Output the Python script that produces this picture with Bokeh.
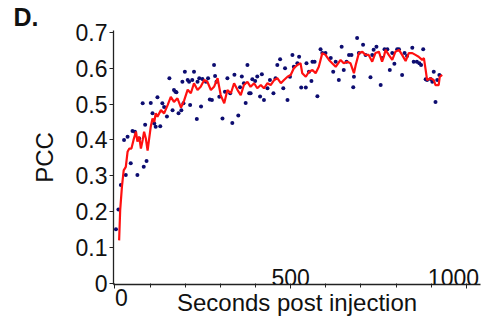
from bokeh.plotting import figure
from bokeh.models import Range1d, FixedTicker, Label
from bokeh.embed import file_html
from bokeh.resources import INLINE

# ---- data ----
dot_t = [3, 10, 17, 26, 31, 36, 45, 50, 57, 64, 69, 79, 82, 86, 90, 102, 107, 112, 116, 121,
         129, 135, 140, 148, 155, 164, 168, 172, 175, 181, 189, 192, 195, 199, 207, 211, 214,
         220, 225, 233, 235, 240, 245, 249, 259, 265, 270, 276, 282, 285, 289, 297, 306, 313,
         320, 328, 334, 340, 351, 356, 361, 367, 372, 377, 382, 386, 391, 399, 405, 413, 418,
         424, 434, 441, 451, 457, 462, 470, 479, 484, 491, 498, 505, 509, 519, 524, 530, 543,
         545, 552, 559, 562, 568, 576, 585, 590, 599, 614, 621, 628, 637, 645, 651, 659, 666,
         673, 678, 680, 689, 694, 706, 713, 727, 732, 736, 744, 756, 760, 767, 775, 782, 789,
         795, 803, 808, 817, 824, 831, 846, 850, 859, 866, 871, 877, 884, 888, 898, 903, 907,
         912, 917, 923]
dot_pcc = [0.151, 0.206, 0.274, 0.400, 0.302, 0.409, 0.335, 0.425, 0.423, 0.302, 0.404, 0.502,
           0.325, 0.442, 0.341, 0.503, 0.474, 0.446, 0.437, 0.519, 0.438, 0.502, 0.492, 0.465,
           0.572, 0.483, 0.539, 0.534, 0.533, 0.474, 0.483, 0.562, 0.502, 0.590, 0.567, 0.562,
           0.497, 0.567, 0.590, 0.458, 0.562, 0.572, 0.493, 0.570, 0.562, 0.572, 0.513, 0.511,
           0.609, 0.578, 0.562, 0.520, 0.460, 0.534, 0.572, 0.530, 0.447, 0.582, 0.468, 0.547,
           0.577, 0.558, 0.503, 0.609, 0.530, 0.530, 0.569, 0.564, 0.577, 0.521, 0.583, 0.511,
           0.544, 0.567, 0.530, 0.572, 0.609, 0.625, 0.544, 0.600, 0.511, 0.576, 0.637, 0.604,
           0.614, 0.632, 0.546, 0.546, 0.614, 0.590, 0.564, 0.618, 0.618, 0.522, 0.653, 0.642,
           0.642, 0.628, 0.590, 0.618, 0.567, 0.660, 0.595, 0.618, 0.637, 0.637, 0.547, 0.576,
           0.684, 0.642, 0.665, 0.637, 0.575, 0.637, 0.651, 0.660, 0.553, 0.628, 0.653, 0.653,
           0.595, 0.642, 0.612, 0.653, 0.653, 0.581, 0.642, 0.634, 0.657, 0.618, 0.618, 0.614,
           0.609, 0.653, 0.569, 0.567, 0.570, 0.562, 0.590, 0.506, 0.567, 0.581]

avg_t = [12, 15, 20, 25, 31, 36, 41, 47, 53, 60, 64, 69, 74, 79, 83, 88, 93, 97, 102, 107,
         112, 116, 121, 131, 140, 150, 159, 168, 178, 188, 197, 207, 216, 225, 235, 244, 254,
         263, 273, 282, 292, 301, 311, 320, 330, 339, 349, 358, 367, 377, 386, 396, 405, 415,
         424, 434, 443, 453, 462, 472, 481, 491, 500, 509, 519, 528, 533, 543, 552, 562, 571,
         580, 590, 599, 609, 618, 628, 642, 651, 661, 670, 680, 685, 694, 704, 713, 722, 732,
         741, 751, 760, 765, 770, 779, 789, 798, 808, 817, 827, 836, 846, 855, 864, 874, 879,
         884, 888, 898, 907, 912, 921, 924, 931]
avg_pcc = [0.120, 0.204, 0.270, 0.315, 0.325, 0.367, 0.376, 0.376, 0.400, 0.423, 0.395, 0.409,
           0.376, 0.400, 0.423, 0.404, 0.370, 0.400, 0.437, 0.460, 0.450, 0.474, 0.465, 0.483,
           0.474, 0.497, 0.520, 0.506, 0.516, 0.490, 0.510, 0.540, 0.530, 0.558, 0.539, 0.548,
           0.567, 0.562, 0.539, 0.548, 0.572, 0.525, 0.502, 0.539, 0.530, 0.558, 0.539, 0.525,
           0.553, 0.562, 0.548, 0.558, 0.544, 0.553, 0.544, 0.558, 0.553, 0.567, 0.572, 0.558,
           0.567, 0.576, 0.581, 0.600, 0.609, 0.614, 0.586, 0.576, 0.590, 0.595, 0.586, 0.604,
           0.642, 0.637, 0.623, 0.614, 0.604, 0.623, 0.614, 0.618, 0.614, 0.586, 0.609, 0.642,
           0.646, 0.637, 0.637, 0.618, 0.642, 0.646, 0.618, 0.632, 0.651, 0.637, 0.623, 0.646,
           0.651, 0.637, 0.620, 0.642, 0.642, 0.637, 0.632, 0.623, 0.628, 0.595, 0.567, 0.572,
           0.567, 0.553, 0.553, 0.576, 0.581]

y_ticks = [0, 0.1, 0.2, 0.3, 0.4, 0.5, 0.6, 0.7]
y_tick_labels = ["0", "0.1", "0.2", "0.3", "0.4", "0.5", "0.6", "0.7"]
x_major = [0, 500, 1000]
x_minor = [100, 200, 300, 400, 600, 700, 800, 900]
x_tick_labels = ["0", "500", "1000"]

FONT = "Liberation Sans"

p = figure(width=499, height=326, output_backend="svg", toolbar_location=None,
           x_range=Range1d(-4, 1040), y_range=Range1d(-0.003, 0.705),
           min_border_left=113, min_border_right=19, min_border_top=30, min_border_bottom=42)
p.outline_line_color = None
p.grid.visible = False
p.background_fill_color = "white"
p.border_fill_color = "white"

# panel letter
p.title.text = "D."
p.title.align = "left"
p.title.offset = -100
p.title.standoff = 0
p.title.text_font = FONT
p.title.text_font_size = "25px"
p.title.text_font_style = "bold"
p.title.text_color = "#111111"

# y axis
ya = p.yaxis[0]
ya.ticker = FixedTicker(ticks=y_ticks, minor_ticks=[])
ya.major_label_overrides = {t: l for t, l in zip(y_ticks, y_tick_labels)}
ya.major_label_text_font = FONT
ya.major_label_text_font_size = "23px"
ya.major_label_text_color = "#111111"
ya.major_label_standoff = 2
ya.major_tick_out = 4
ya.major_tick_in = 0
ya.axis_line_color = "#222222"
ya.major_tick_line_color = "#222222"
ya.axis_line_width = 1.3
ya.axis_label = "PCC"
ya.axis_label_text_font = FONT
ya.axis_label_text_font_size = "24px"
ya.axis_label_text_font_style = "normal"
ya.axis_label_text_color = "#111111"
ya.axis_label_standoff = 15

# x axis: only "0" sits below the axis (nudged right); 500 and 1000 are drawn above it
xa = p.xaxis[0]
xa.ticker = FixedTicker(ticks=x_major, minor_ticks=x_minor)
xa.major_label_overrides = {t: ("\u00a0\u00a0" + l if t == 0 else "")
                            for t, l in zip(x_major, x_tick_labels)}
xa.major_label_text_font = FONT
xa.major_label_text_font_size = "23px"
xa.major_label_text_color = "#111111"
xa.major_label_standoff = -4
xa.major_tick_out = 4
xa.major_tick_in = 1
xa.minor_tick_out = 3
xa.minor_tick_in = 1
xa.axis_line_color = "#222222"
xa.major_tick_line_color = "#222222"
xa.minor_tick_line_color = "#222222"
xa.axis_line_width = 1.3
xa.axis_label = "Seconds post injection"
xa.axis_label_text_font = FONT
xa.axis_label_text_font_size = "24px"
xa.axis_label_text_font_style = "normal"
xa.axis_label_text_color = "#111111"
xa.axis_label_standoff = -25

p.scatter(dot_t, dot_pcc, marker="circle", size=4, color="#0c0c70", line_color=None)
p.line(avg_t, avg_pcc, line_color="#ff1010", line_width=2.2)

# 500 / 1000 labels sit just above the x axis, as in the reference
offsets = {"500": 0, "1000": -13}
for t, lab in zip(x_major, x_tick_labels):
    if lab in offsets:
        p.add_layout(Label(x=t, y=7, x_units="data", y_units="screen", text=lab,
                           x_offset=offsets[lab], text_align="center",
                           text_baseline="alphabetic", text_font=FONT,
                           text_font_size="23px", text_color="#111111"))

open("out.html", "w").write(file_html(p, INLINE))
